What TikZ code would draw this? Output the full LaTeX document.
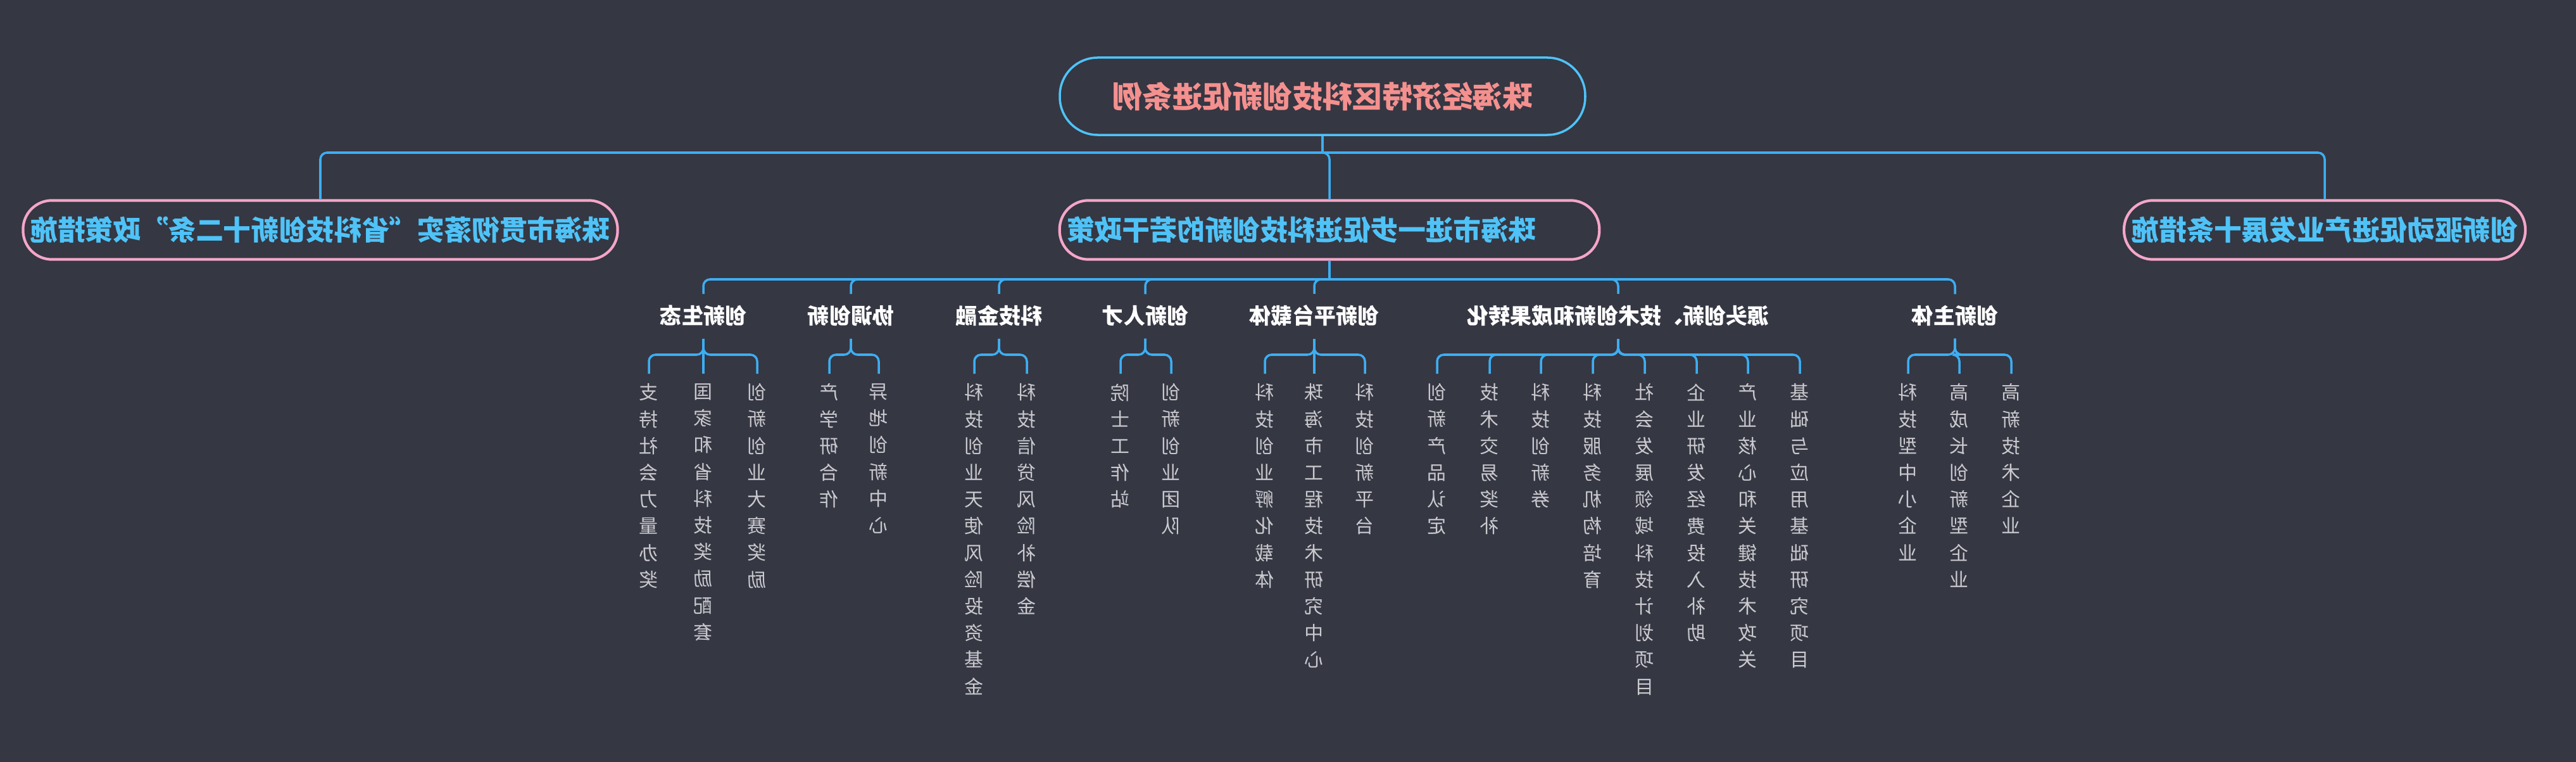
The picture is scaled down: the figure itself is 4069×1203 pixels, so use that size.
\documentclass[tikz,border=0pt]{standalone}
\usepackage{fontspec}
\newfontfamily\cjk{Noto Sans CJK SC}
\XeTeXlinebreaklocale "zh"
\XeTeXlinebreakskip=0pt plus 1pt
\usetikzlibrary{calc}
\definecolor{bgc}{HTML}{353743}
\definecolor{linec}{HTML}{3DAEF2}
\definecolor{titlec}{HTML}{F4908E}
\definecolor{pinkc}{HTML}{F4A6C8}
\definecolor{skyc}{HTML}{4FC3F7}
\definecolor{leafc}{HTML}{C9C9CE}
\tikzset{
  mirror/.style={xscale=-1},
  rootbox/.style={mirror,draw=skyc,line width=1pt,rounded corners=17pt,minimum width=236pt,minimum height=34.7pt,
    text=titlec,font=\cjk\bfseries\fontsize{13.5}{15}\selectfont},
  policybox/.style={mirror,draw=pinkc,line width=1.2pt,rounded corners=13pt,minimum height=26.5pt,
    text=skyc,font=\cjk\bfseries\fontsize{12.4}{14}\selectfont},
  cat/.style={mirror,text=white,font=\cjk\bfseries\fontsize{9.7}{11}\selectfont},
  leaf/.style={mirror,anchor=north,text=leafc,text width=10pt,align=center,inner sep=0pt,
    font=\cjk\fontsize{8.5}{12}\selectfont},
  link/.style={draw=linec,line width=1pt,rounded corners=3pt},
}
\begin{document}
\begin{tikzpicture}[x=0.01cm,y=-0.01cm]
  \fill[bgc] (0,0) rectangle (4069,1203);
  % root and policies
  \node[rootbox] (root) at (2089,152) {珠海经济特区科技创新促进条例};
  \node[policybox,minimum width=236pt] (polL) at (506,363) {珠海市贯彻落实“省科技创新十二条”政策措施};
  \node[policybox,minimum width=222.8pt] (polM) at (2100,363) {\hspace*{25pt}珠海市进一步促进科技创新的若干政策};
  \node[policybox,minimum width=174pt] (polR) at (3672,363) {创新驱动促进产业发展十条措施};
  \coordinate (j0) at (2089,241);
  \draw[link] (root.south) -- (j0);
  \draw[link] (j0) -| (polL.north);
  \draw[link] (j0) -| (polR.north);
  \draw[link] (j0) -| (polM.north);
  % categories
  \node[cat] (c1) at (1111,498) {创新生态};
  \node[cat] (c2) at (1344,498) {协调创新};
  \node[cat] (c3) at (1578,498) {科技金融};
  \node[cat] (c4) at (1809,498) {创新人才};
  \node[cat] (c5) at (2076,498) {创新平台载体};
  \node[cat] (c6) at (2556,498) {源头创新、技术创新和成果转化};
  \node[cat] (c7) at (3088,498) {创新主体};
  \coordinate (j1) at (2100,441);
  \coordinate (br) at (0,560);
  \draw[link] (polM.south) -- (j1);
  \foreach \c in {c1,c2,c3,c4,c5,c6,c7}
    \draw[link] (j1) -| ($(\c.north)+(0,-5)$);
  % leaves
  \foreach \x/\t/\c in {
    1025/支持社会力量办奖/c1, 1111/国家和省科技奖励配套/c1, 1196/创新创业大赛奖励/c1,
    1310/产学研合作/c2, 1388/异地创新中心/c2,
    1539/科技创业天使风险投资基金/c3, 1622/科技信贷风险补偿金/c3,
    1770/院士工作站/c4, 1850/创新创业团队/c4,
    1998/科技创业孵化载体/c5, 2076/珠海市工程技术研究中心/c5, 2156/科技创新平台/c5,
    2270/创新产品认定/c6, 2353/技术交易奖补/c6, 2434/科技创新券/c6, 2516/科技服务机构培育/c6,
    2598/社会发展领域科技计划项目/c6, 2680/企业研发经费投入补助/c6,
    2761/产业核心和关键技术攻关/c6, 2843/基础与应用基础研究项目/c6,
    3014/科技型中小企业/c7, 3095/高成长创新型企业/c7, 3177/高新技术企业/c7}
  {
    \node[leaf] (l\x) at (\x,605) {\t};
    \draw[link] ($(\c.south)+(0,8)$) -- (\c.south |- br) -| ($(l\x.north)+(0,-15)$);
  }
\end{tikzpicture}
\end{document}
